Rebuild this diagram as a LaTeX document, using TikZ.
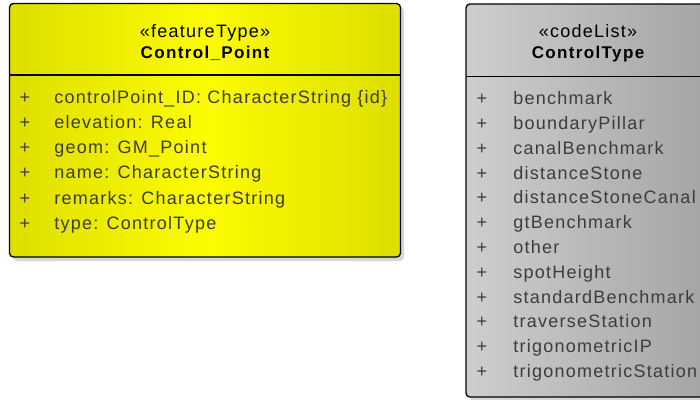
\documentclass[tikz,border=0pt]{standalone}
\usepackage{fontspec}
\setmainfont{Liberation Sans}
\newfontfamily\umlfont[LetterSpace=7]{Liberation Sans}
\newfontfamily\umlboldfont[LetterSpace=8]{Liberation Sans}
\usepackage{tikz}

\definecolor{featYellowDk}{RGB}{222,222,0}
\definecolor{featYellowLt}{RGB}{252,252,0}
\definecolor{codeGrayLt}{RGB}{206,206,206}
\definecolor{codeGrayDk}{RGB}{164,164,164}
\definecolor{attrText}{RGB}{60,60,60}
\definecolor{boxShadow}{RGB}{215,215,215}

\tikzset{
  umlbox/.style={draw=black, line width=1pt, rounded corners=3},
  umlshadow/.style={fill=boxShadow, rounded corners=3},
  stereo/.style={anchor=base, inner sep=0.75pt, font=\umlfont\fontsize{13.5}{16}\selectfont},
  classname/.style={anchor=base, inner sep=0.75pt, font=\umlboldfont\fontsize{12.75}{15}\selectfont\bfseries},
  attrplus/.style={anchor=base, inner sep=0.75pt, text=attrText, font=\umlfont\fontsize{13.5}{16}\selectfont},
  attrname/.style={anchor=base west, inner sep=0.75pt, text=attrText, font=\umlfont\fontsize{13.5}{16}\selectfont}
}

\begin{document}
\begin{tikzpicture}[x=0.75pt,y=0.75pt,yscale=-1,xscale=1]
%set diagram to 700 x 400
\clip (0,0) rectangle (700,400);

%Shape: Shadow [id:featureShadow]
\fill [umlshadow] (13,7) rectangle (404,261);
%Shape: Class box [id:featureBox]
\shade [rounded corners=3, left color=featYellowDk, right color=featYellowDk, middle color=featYellowLt] (9.5,3.5) rectangle (400.5,257);
\draw [umlbox] (9.5,3.5) rectangle (400.5,257);
%Straight Lines [id:featureSep]
\draw [line width=1pt] (9.5,75) -- (400.5,75);

%Shape: Shadow [id:codeShadow]
\fill [umlshadow] (470,8) rectangle (714,401);
%Shape: Class box [id:codeBox]
\shade [rounded corners=3, left color=codeGrayLt, right color=codeGrayDk] (466,4) rectangle (710,397);
\draw [umlbox] (466,4) rectangle (710,397);
%Straight Lines [id:codeSep]
\draw [line width=1pt] (466,76.5) -- (710,76.5);

% Text Node
\draw (205,37) node (featStereo) [stereo] {«featureType»};
% Text Node
\draw (205,58) node (featName) [classname] {Control\_Point};

% Text Node
\draw (25,103) node (featPlusA) [attrplus] {+};
\draw (53,103) node (featAttrA) [attrname] {controlPoint\_ID: CharacterString \{id\}};
% Text Node
\draw (25,128) node (featPlusB) [attrplus] {+};
\draw (53,128) node (featAttrB) [attrname] {elevation: Real};
% Text Node
\draw (25,153) node (featPlusC) [attrplus] {+};
\draw (53,153) node (featAttrC) [attrname] {geom: GM\_Point};
% Text Node
\draw (25,178.5) node (featPlusD) [attrplus] {+};
\draw (53,178.5) node (featAttrD) [attrname] {name: CharacterString};
% Text Node
\draw (25,204) node (featPlusE) [attrplus] {+};
\draw (53,204) node (featAttrE) [attrname] {remarks: CharacterString};
% Text Node
\draw (25,229) node (featPlusF) [attrplus] {+};
\draw (53,229) node (featAttrF) [attrname] {type: ControlType};

% Text Node
\draw (588,37) node (codeStereo) [stereo] {«codeList»};
% Text Node
\draw (588,58) node (codeName) [classname] {ControlType};

% Text Node
\draw (482,104) node (codePlusA) [attrplus] {+};
\draw (512,104) node (codeValA) [attrname] {benchmark};
% Text Node
\draw (482,129) node (codePlusB) [attrplus] {+};
\draw (512,129) node (codeValB) [attrname] {boundaryPillar};
% Text Node
\draw (482,154) node (codePlusC) [attrplus] {+};
\draw (512,154) node (codeValC) [attrname] {canalBenchmark};
% Text Node
\draw (482,179) node (codePlusD) [attrplus] {+};
\draw (512,179) node (codeValD) [attrname] {distanceStone};
% Text Node
\draw (482,203.5) node (codePlusE) [attrplus] {+};
\draw (512,203.5) node (codeValE) [attrname] {distanceStoneCanal};
% Text Node
\draw (482,228.5) node (codePlusF) [attrplus] {+};
\draw (512,228.5) node (codeValF) [attrname] {gtBenchmark};
% Text Node
\draw (482,253) node (codePlusG) [attrplus] {+};
\draw (512,253) node (codeValG) [attrname] {other};
% Text Node
\draw (482,278) node (codePlusH) [attrplus] {+};
\draw (512,278) node (codeValH) [attrname] {spotHeight};
% Text Node
\draw (482,303) node (codePlusI) [attrplus] {+};
\draw (512,303) node (codeValI) [attrname] {standardBenchmark};
% Text Node
\draw (482,327.5) node (codePlusJ) [attrplus] {+};
\draw (512,327.5) node (codeValJ) [attrname] {traverseStation};
% Text Node
\draw (482,352.5) node (codePlusK) [attrplus] {+};
\draw (512,352.5) node (codeValK) [attrname] {trigonometricIP};
% Text Node
\draw (482,377) node (codePlusL) [attrplus] {+};
\draw (512,377) node (codeValL) [attrname] {trigonometricStation};

\end{tikzpicture}
\end{document}
